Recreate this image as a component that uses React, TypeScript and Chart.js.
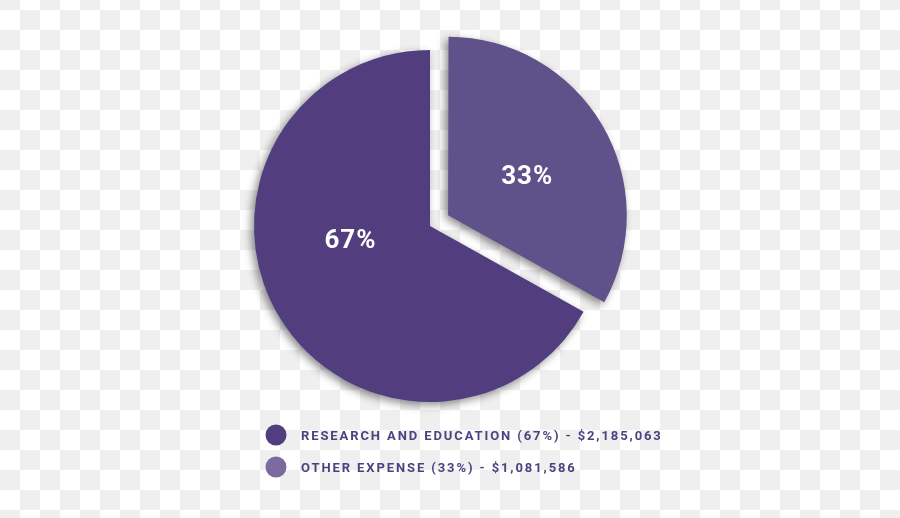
import React, { useEffect, useRef } from "react";
import { Chart, registerables } from "chart.js";

Chart.register(...registerables);

const categories = ["RESEARCH AND EDUCATION", "OTHER EXPENSE"];
const values = [2185063, 1081586];
const percentLabels = ["67%", "33%"];
const sliceColors = ["#523e7e", "#5f5189"];
const legendDotColors = ["#523e7e", "#7a6a9e"];
const sliceShift = [0, 21];
const labelRadiusFrac = [0.46, 0.5];
const labelAngleShiftDeg = [19.8, 4.4];

const fmtMoney = (v: number) => "$" + v.toLocaleString("en-US");

const shadowPlugin = {
  id: "sliceShadow",
  beforeDatasetsDraw(chart: any) {
    const ctx = chart.ctx;
    ctx.save();
    ctx.shadowColor = "rgba(0,0,0,0.45)";
    ctx.shadowBlur = 8;
    ctx.shadowOffsetX = -3;
    ctx.shadowOffsetY = 3;
  },
  afterDatasetsDraw(chart: any) {
    chart.ctx.restore();
  },
};

const labelPlugin = {
  id: "sliceLabels",
  afterDatasetsDraw(chart: any) {
    const ctx = chart.ctx;
    const meta = chart.getDatasetMeta(0);
    ctx.save();
    ctx.fillStyle = "#ffffff";
    ctx.font = "bold 26px Roboto";
    ctx.textAlign = "center";
    ctx.textBaseline = "middle";
    try { (ctx as any).letterSpacing = "1px"; } catch (e) {}
    meta.data.forEach((arc: any, i: number) => {
      const p = arc.getProps(["x", "y", "startAngle", "endAngle", "outerRadius"], true);
      const mid = (p.startAngle + p.endAngle) / 2;
      const off = sliceShift[i];
      const cx = p.x + Math.cos(mid) * off;
      const cy = p.y + Math.sin(mid) * off;
      const a = mid + (labelAngleShiftDeg[i] * Math.PI) / 180;
      const r = p.outerRadius * labelRadiusFrac[i];
      ctx.fillText(percentLabels[i], cx + Math.cos(a) * r, cy + Math.sin(a) * r + 1);
    });
    ctx.restore();
  },
};

const legendPlugin = {
  id: "customLegend",
  afterDraw(chart: any) {
    const ctx = chart.ctx;
    ctx.save();
    categories.forEach((cat, i) => {
      const y = 435 + i * 32;
      ctx.beginPath();
      ctx.fillStyle = legendDotColors[i];
      ctx.arc(276, y, 10.5, 0, Math.PI * 2);
      ctx.fill();
      ctx.fillStyle = "#4f3f7f";
      ctx.font = "bold 13px Roboto";
      ctx.textAlign = "left";
      ctx.textBaseline = "alphabetic";
      try { (ctx as any).letterSpacing = "1.9px"; } catch (e) {}
      ctx.fillText(`${cat} (${percentLabels[i]}) - ${fmtMoney(values[i])}`, 301, y + 5);
    });
    ctx.restore();
  },
};

export default function App() {
  const ref = useRef<HTMLCanvasElement | null>(null);
  useEffect(() => {
    if (!ref.current) return;
    const total = values.reduce((a, b) => a + b, 0);
    const rotation = (360 * values[1]) / total;
    const chart = new Chart(ref.current, {
      type: "pie",
      data: {
        labels: categories,
        datasets: [
          {
            data: values,
            backgroundColor: sliceColors,
            borderWidth: 0,
            // Chart.js translates an arc by offset / 4
            offset: sliceShift.map((s) => s * 4),
            hoverOffset: 0,
          } as any,
        ],
      },
      options: {
        responsive: false,
        animation: false,
        rotation,
        radius: 176,
        layout: { padding: { left: 0, right: 40, top: 0, bottom: 66 } },
        plugins: {
          legend: { display: false },
          tooltip: { enabled: false },
        },
        events: [],
      } as any,
      plugins: [shadowPlugin, labelPlugin, legendPlugin],
    });
    return () => chart.destroy();
  }, []);
  return (
    <div
      style={{
        position: "absolute",
        left: 0,
        top: 0,
        width: 900,
        height: 518,
        backgroundImage:
          "conic-gradient(#efefef 0 25%, #ffffff 0 50%, #efefef 0 75%, #ffffff 0)",
        backgroundSize: "40px 40px",
        backgroundPosition: "0 10px",
      }}
    >
      <canvas ref={ref} width={900} height={518} style={{ display: "block" }} />
    </div>
  );
}
